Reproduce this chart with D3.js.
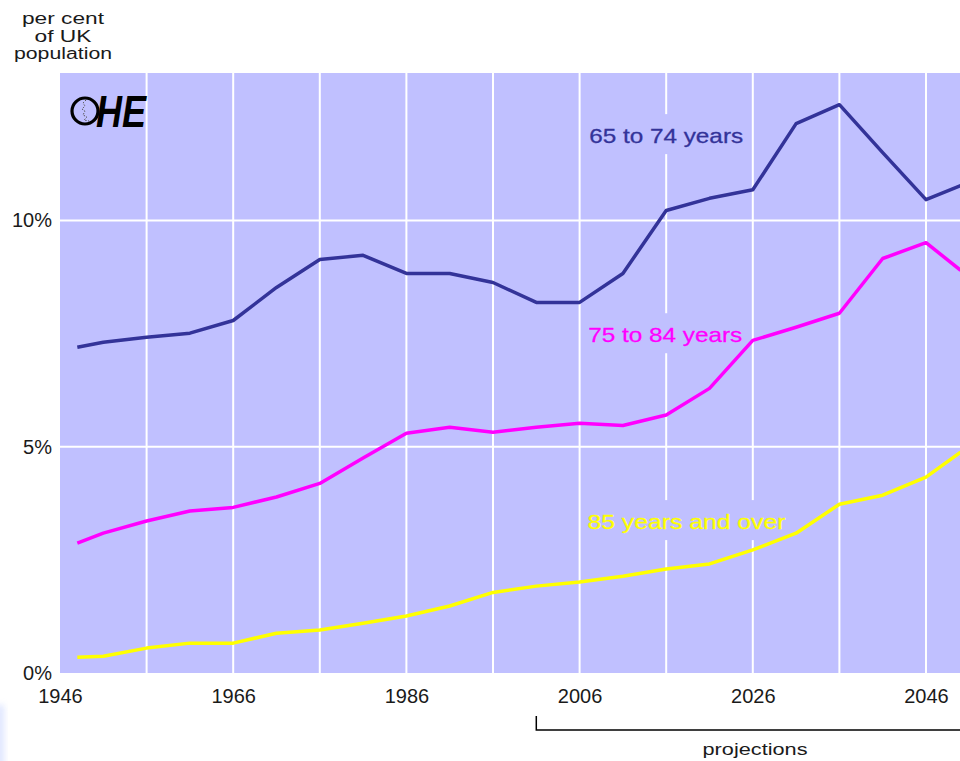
<!DOCTYPE html>
<html>
<head>
<meta charset="utf-8">
<script src="https://cdn.jsdelivr.net/npm/d3@7"></script>
<style>
  body { margin: 0; background: #fff; }
  text { font-family: "Liberation Sans", Arial, sans-serif; }
</style>
</head>
<body>
<div id="container"></div>
<script>
// values (per cent of UK population)
let years = [1948, 1951, 1956, 1961, 1966, 1971, 1976, 1981, 1986, 1991, 1996,
             2001, 2006, 2011, 2016, 2021, 2026, 2031, 2036, 2041, 2046, 2050];
let age65to74 = [7.20, 7.31, 7.42, 7.51, 7.79, 8.52, 9.14, 9.23, 8.83, 8.83, 8.63,
                 8.19, 8.19, 8.83, 10.22, 10.49, 10.68, 12.14, 12.56, 11.50, 10.46, 10.77];
let age75to84 = [2.87, 3.09, 3.36, 3.58, 3.66, 3.89, 4.19, 4.75, 5.30, 5.43, 5.32,
                 5.43, 5.52, 5.47, 5.70, 6.29, 7.35, 7.64, 7.95, 9.16, 9.51, 8.90];
let age85plus = [0.35, 0.37, 0.55, 0.66, 0.66, 0.88, 0.95, 1.10, 1.26, 1.48, 1.78,
                 1.92, 2.01, 2.14, 2.30, 2.41, 2.72, 3.09, 3.73, 3.93, 4.33, 4.88];
let seriesNames = ["65 to 74 years", "75 to 84 years", "85 years and over"];
let xTicks = [1946, 1966, 1986, 2006, 2026, 2046];
let xGrid = [1956, 1966, 1976, 1986, 1996, 2006, 2016, 2026, 2036, 2046];
let yTicks = [0, 5, 10];
let yGrid = [5, 10];
let projectionStart = 2001;
let titleLines = ["per cent", "of UK", "population"];

let colors = ["#333399", "#ff00ff", "#ffff00"];
let allValues = [age65to74, age75to84, age85plus];
// label anchors (year, value) and widths
let labelPos = [{yr: 2007.1, v: 11.71, w: 154}, {yr: 2007, v: 7.31, w: 154}, {yr: 2006.9, v: 3.18, w: 198}];

let W = 960, H = 761;
let plotLeft = 60, plotTop = 73, plotBottom = 673, plotRight = 960;

let svg = d3.select("#container")
  .append("svg")
    .attr("width", W)
    .attr("height", H)
;

let x = d3.scaleLinear().domain([1946, 2046]).range([plotLeft, 926]);
let y = d3.scaleLinear().domain([0, 10]).range([plotBottom, 220.5]);

let defs = svg.append("defs");
defs.append("clipPath").attr("id", "plotclip")
  .append("rect")
    .attr("x", plotLeft).attr("y", plotTop)
    .attr("width", plotRight - plotLeft).attr("height", plotBottom - plotTop);

// faint blur at bottom left edge
let blur = defs.append("filter").attr("id", "soft")
  .attr("x", "-50%").attr("y", "-50%").attr("width", "200%").attr("height", "200%");
blur.append("feGaussianBlur").attr("stdDeviation", 3);
svg.append("rect")
  .attr("x", -4).attr("y", 705).attr("width", 8).attr("height", 70)
  .attr("fill", "#c8d4ff").attr("opacity", 0.6)
  .attr("filter", "url(#soft)");

svg.append("rect")
  .attr("x", plotLeft).attr("y", plotTop)
  .attr("width", plotRight - plotLeft).attr("height", plotBottom - plotTop)
  .attr("fill", "#c0c0ff");

let grid = svg.append("g").attr("clip-path", "url(#plotclip)");
grid.selectAll(".vgrid").data(xGrid).enter()
  .append("line")
    .attr("class", "vgrid")
    .attr("x1", d => x(d)).attr("x2", d => x(d))
    .attr("y1", plotTop).attr("y2", plotBottom)
    .attr("stroke", "#fff").attr("stroke-width", 2);
grid.selectAll(".hgrid").data(yGrid).enter()
  .append("line")
    .attr("class", "hgrid")
    .attr("x1", plotLeft).attr("x2", plotRight)
    .attr("y1", d => y(d)).attr("y2", d => y(d))
    .attr("stroke", "#fff").attr("stroke-width", 2);

// series labels, with a background patch that breaks the grid
let labels = svg.selectAll(".serieslabel").data(seriesNames).enter()
  .append("g")
    .attr("class", "serieslabel")
    .attr("transform", (d, i) => "translate(" + x(labelPos[i].yr) + "," + y(labelPos[i].v) + ")");
labels.append("rect")
  .attr("x", -5).attr("y", -29)
  .attr("width", (d, i) => labelPos[i].w + 10).attr("height", 40)
  .attr("fill", "#c0c0ff");
labels.append("text")
  .attr("x", 0).attr("y", 0)
  .attr("font-size", 21)
  .attr("textLength", (d, i) => labelPos[i].w)
  .attr("lengthAdjust", "spacingAndGlyphs")
  .attr("fill", (d, i) => colors[i])
  .attr("stroke", (d, i) => colors[i])
  .attr("stroke-width", 0.3)
  .text(d => d);

let line = d3.line()
  .x(d => x(d[0]))
  .y(d => y(d[1]));

svg.append("g").attr("clip-path", "url(#plotclip)")
  .selectAll(".series").data(allValues).enter()
  .append("path")
    .attr("class", "series")
    .attr("d", vals => line(years.map((yr, j) => [yr, vals[j]])))
    .attr("fill", "none")
    .attr("stroke", (d, i) => colors[i])
    .attr("stroke-width", 3.5)
    .attr("stroke-linejoin", "round");

// axes
let xAxis = svg.append("g")
  .attr("transform", "translate(0," + plotBottom + ")")
  .call(d3.axisBottom(x).tickValues(xTicks).tickFormat(d3.format("d")).tickSize(0).tickPadding(16));
xAxis.select(".domain").remove();
xAxis.selectAll("text")
  .attr("font-size", 20)
  .attr("font-family", "Liberation Sans, Arial, sans-serif")
  .attr("fill", "#1a1a1a");

let yAxis = svg.append("g")
  .attr("transform", "translate(" + plotLeft + ",0)")
  .call(d3.axisLeft(y).tickValues(yTicks).tickFormat(d => d + "%").tickSize(0).tickPadding(8));
yAxis.select(".domain").remove();
yAxis.selectAll("text")
  .attr("font-size", 20)
  .attr("font-family", "Liberation Sans, Arial, sans-serif")
  .attr("fill", "#1a1a1a");

// unit title
let titleLen = [82, 57, 98];
svg.selectAll(".title").data(titleLines).enter()
  .append("text")
    .attr("class", "title")
    .attr("x", 63)
    .attr("y", (d, i) => 24 + i * 17.5)
    .attr("text-anchor", "middle")
    .attr("font-size", 16)
    .attr("textLength", (d, i) => titleLen[i])
    .attr("lengthAdjust", "spacingAndGlyphs")
    .attr("fill", "#1a1a1a")
    .text(d => d);

// OHE logo
let logo = svg.append("g");
logo.append("circle")
  .attr("cx", 85).attr("cy", 111).attr("r", 13)
  .attr("fill", "none").attr("stroke", "#000").attr("stroke-width", 3.2);
logo.append("path")
  .attr("d", "M86,100 l-3,3 l2,3 l-3,3 l3,2 l-2,4 l4,2 l-3,3 l5,1")
  .attr("fill", "none").attr("stroke", "#555").attr("stroke-width", 1)
  .attr("stroke-dasharray", "1.5,1.5");
logo.append("text")
  .attr("x", 96).attr("y", 127)
  .attr("font-size", 44)
  .attr("font-style", "italic")
  .attr("font-weight", "bold")
  .attr("textLength", 50)
  .attr("lengthAdjust", "spacingAndGlyphs")
  .attr("fill", "#000")
  .text("HE");

// projections bracket
let bx = x(projectionStart);
svg.append("path")
  .attr("d", "M" + bx + ",716 V730 H" + W)
  .attr("fill", "none").attr("stroke", "#000").attr("stroke-width", 1.5);
svg.append("text")
  .attr("x", 755).attr("y", 755)
  .attr("text-anchor", "middle")
  .attr("font-size", 17)
  .attr("textLength", 105)
  .attr("lengthAdjust", "spacingAndGlyphs")
  .attr("fill", "#1a1a1a")
  .text("projections");
</script>
</body>
</html>
